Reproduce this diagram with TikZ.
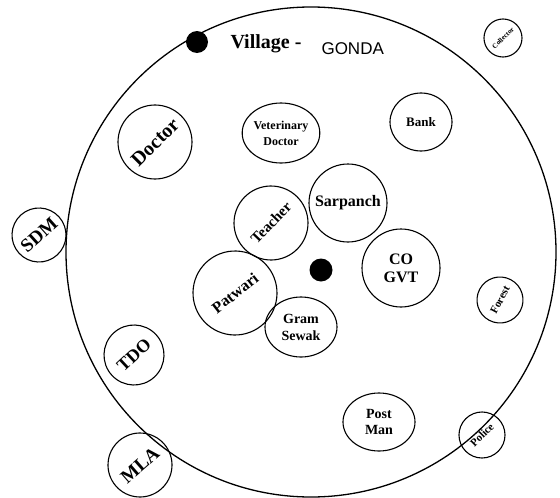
\documentclass[tikz,border=0pt]{standalone}
\usepackage{fontspec}
\setmainfont{Liberation Serif}
\newfontfamily\gondafont{Liberation Sans}
\usetikzlibrary{shapes.geometric}
\newcommand{\fsz}[2]{\fontsize{#1}{#2}\selectfont\bfseries}

\begin{document}
\begin{tikzpicture}[
   x=1pt,y=-1pt,
   ring/.style={circle,draw,line width=1.1pt,inner sep=0pt},
   oval/.style={ellipse,draw,line width=1.1pt,inner sep=0pt,align=center},
   spot/.style={circle,fill=black,inner sep=0pt}
 ]
  \useasboundingbox (0,0) rectangle (560,498);
  \node[circle,draw,line width=1.3pt,minimum size=490pt] (village) at (311,252) {};
  \node[spot,minimum size=22pt] (vdot) at (197,42) {};
  \node[spot,minimum size=23pt] (hub) at (321,270) {};
  \node[anchor=west,font=\fsz{20}{22}] (vlabel) at (227,44) {Village -};
  \node[anchor=west,font=\gondafont\fontsize{17}{19}\selectfont] (gonda) at (318,49) {GONDA};

  % round ones, turned
  \foreach \nm/\x/\y/\d/\a/\s/\t in {
      collector/503/38/38/45/7/Collector, doctor/155/142/74/45/20/Doctor,
      sdm/39/235/54/42/19/SDM, teacher/271/223/74/46/15/Teacher,
      patwari/235/293/84/38/16/Patwari, forest/500/300/46/62/11/Forest,
      tdo/134/355/60/43/18/TDO, mla/140/465/64/41/19/MLA,
      police/482/435/46/45/11/Police} {
    \node[ring,minimum size=\d pt,rotate=\a,font=\fsz{\s}{\s}] (\nm) at (\x,\y) {\t};
  }
  \node[ring,minimum size=78pt,font=\fsz{16}{18}] (sarpanch) at (348,203) {Sarpanch};
  \node[ring,minimum size=78pt,align=center,font=\fsz{16}{18}] (cogvt) at (401,268) {CO\\GVT};

  % ovals
  \node[oval,minimum width=62pt,minimum height=58pt,font=\fsz{13}{15}] (bank) at (421,122) {Bank};
  \node[oval,minimum width=74pt,minimum height=60pt,font=\fsz{12}{16}] (vet) at (281,133) {Veterinary\\Doctor};
  \node[oval,minimum width=72pt,minimum height=60pt,font=\fsz{14}{17}] (gramsewak) at (301,327) {Gram\\Sewak};
  \node[oval,minimum width=72pt,minimum height=58pt,font=\fsz{14}{16}] (postman) at (379,422) {Post\\Man};
\end{tikzpicture}
\end{document}
